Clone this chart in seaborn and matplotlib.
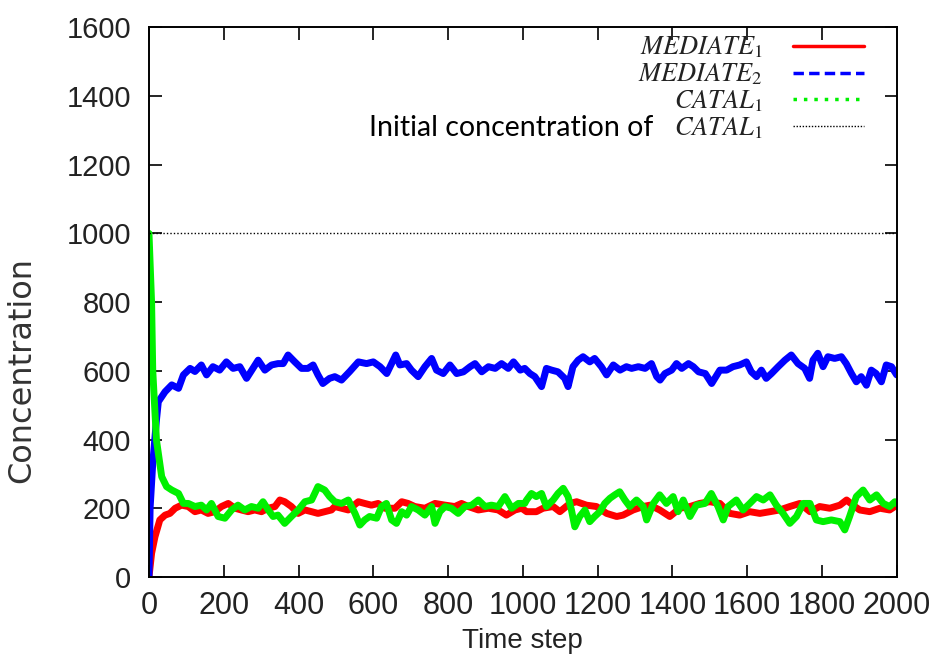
import matplotlib
matplotlib.use("Agg")
import matplotlib.pyplot as plt
import seaborn as sns
import pandas as pd
from matplotlib.lines import Line2D

# ---------------- data ----------------
t_mediate2 = [0, 3, 10, 20, 25, 43, 61, 79, 92, 110, 123, 140, 154, 171, 189, 207, 225, 243, 261, 278,
              292, 310, 328, 345, 359, 372, 390, 408, 425, 439, 452, 465, 483, 497, 515, 537, 560, 582,
              600, 618, 636, 649, 660, 671, 689, 702, 720, 738, 756, 769, 787, 805, 823, 841, 859, 872,
              890, 908, 926, 943, 961, 975, 993, 1005, 1019, 1032, 1050, 1063, 1077, 1094, 1112, 1121,
              1134, 1148, 1161, 1179, 1192, 1210, 1224, 1242, 1260, 1277, 1291, 1309, 1327, 1344, 1358,
              1367, 1380, 1398, 1411, 1425, 1443, 1456, 1470, 1488, 1505, 1527, 1545, 1562, 1580, 1598,
              1611, 1625, 1638, 1651, 1665, 1683, 1701, 1718, 1736, 1754, 1767, 1776, 1789, 1803, 1816,
              1834, 1852, 1865, 1879, 1892, 1905, 1919, 1932, 1945, 1959, 1972, 1986, 2000]
mediate2 = [0, 200, 330, 457, 510, 539, 559, 549, 588, 607, 598, 617, 588, 612, 602, 626, 607, 612, 578, 607,
            631, 602, 617, 621, 621, 646, 626, 607, 607, 617, 588, 563, 578, 583, 573, 598, 626, 621,
            626, 612, 592, 621, 646, 617, 621, 602, 583, 612, 636, 602, 592, 617, 592, 597, 612, 621,
            597, 612, 607, 621, 607, 626, 602, 607, 592, 583, 554, 607, 602, 597, 578, 554,
            612, 631, 641, 626, 636, 612, 588, 617, 602, 612, 607, 612, 607, 621, 583,
            573, 592, 602, 621, 607, 621, 612, 597, 592, 563, 602, 602, 612, 617, 626,
            597, 583, 602, 578, 592, 612, 631, 646, 621, 607, 578, 631, 651, 612, 641,
            636, 641, 621, 592, 568, 583, 558, 602, 592, 568, 617, 612, 588]

t_mediate1 = [0, 7, 16, 29, 43, 56, 70, 87, 105, 123, 140, 158, 176, 194, 212, 230, 247, 265, 283, 301,
              319, 337, 350, 363, 381, 399, 417, 435, 452, 470, 488, 497, 515, 533, 560, 577, 595, 613,
              631, 658, 676, 693, 711, 738, 765, 792, 818, 836, 854, 881, 908, 934, 956, 979, 997, 1010,
              1036, 1054, 1081, 1099, 1126, 1144, 1170, 1197, 1224, 1251, 1268, 1295, 1322, 1340, 1366,
              1393, 1420, 1447, 1473, 1500, 1527, 1554, 1580, 1607, 1634, 1661, 1687, 1714, 1741, 1768,
              1794, 1821, 1848, 1866, 1883, 1901, 1928, 1955, 1981, 1995, 2000]
mediate1 = [0, 69, 117, 166, 180, 185, 200, 209, 205, 190, 195, 185, 190, 205, 214, 200, 195, 190, 195, 190,
            200, 205, 224, 219, 205, 185, 195, 190, 185, 190, 195, 205, 200, 195, 219, 214, 209, 214,
            200, 200, 219, 214, 205, 200, 214, 209, 205, 214, 205, 195, 200, 195, 180, 195, 200, 190,
            190, 200, 205, 190, 214, 219, 209, 205, 185, 176, 180, 195, 205, 209, 195,
            176, 200, 205, 214, 219, 214, 185, 180, 190, 185, 190, 195, 205, 214, 190,
            205, 200, 209, 224, 209, 195, 190, 200, 195, 205, 205]

t_catal1 = [0, 7, 10, 20, 34, 47, 61, 79, 92, 105, 123, 140, 154, 167, 185, 203, 221, 238, 256, 274, 292,
            305, 319, 332, 345, 363, 381, 399, 417, 435, 452, 470, 483, 497, 515, 533, 551, 564, 577, 590,
            609, 622, 635, 649, 662, 676, 689, 702, 720, 738, 756, 765, 778, 792, 809, 827, 845, 863, 881,
            899, 916, 934, 952, 970, 988, 1005, 1010, 1023, 1036, 1050, 1063, 1081, 1094, 1108, 1121, 1130,
            1139, 1152, 1166, 1179, 1192, 1206, 1219, 1233, 1246, 1259, 1273, 1286, 1304, 1322, 1331, 1349,
            1366, 1384, 1402, 1415, 1429, 1447, 1464, 1487, 1504, 1522, 1536, 1549, 1571, 1589, 1607, 1625,
            1643, 1661, 1678, 1696, 1714, 1732, 1750, 1768, 1785, 1803, 1825, 1848, 1861, 1874, 1892, 1910,
            1928, 1946, 1964, 1981, 1995, 2000]
catal1 = [1000, 797, 602, 398, 292, 263, 253, 243, 214, 214, 205, 209, 195, 214, 176, 171, 195, 209, 195, 205, 200,
          219, 195, 176, 180, 156, 176, 195, 219, 224, 263, 253, 234, 219, 214, 224, 185, 151, 166, 176,
          171, 205, 214, 166, 156, 190, 180, 205, 195, 180, 205, 156, 190, 205, 200, 185, 205, 209, 224,
          205, 209, 205, 234, 200, 214, 214, 224, 243, 234, 243, 205, 224, 243, 258, 234, 195,
          146, 176, 195, 161, 176, 190, 214, 229, 239, 248, 224, 205, 224, 205, 166, 214,
          239, 214, 234, 190, 224, 176, 209, 214, 243, 205, 166, 205, 224, 195, 214, 234,
          224, 239, 209, 185, 156, 176, 214, 214, 166, 161, 166, 161, 137, 176, 234, 253,
          224, 239, 214, 205, 219, 214]

initial_catal1 = 1000
x_ticks = [0, 200, 400, 600, 800, 1000, 1200, 1400, 1600, 1800, 2000]
y_ticks = [0, 200, 400, 600, 800, 1000, 1200, 1400, 1600]
labels = ["$MEDIATE_1$", "$MEDIATE_2$", "$CATAL_1$", "$CATAL_1$"]
overlay_label = "Initial concentration of"

# ---------------- style ----------------
sns.set_style("ticks")
plt.rcParams["font.family"] = ["Liberation Sans", "DejaVu Sans"]
plt.rcParams["mathtext.fontset"] = "stix"

fig = plt.figure(figsize=(9.37, 6.6), dpi=100)
ax = fig.add_axes([0.159, 0.1258, 0.798, 0.833])

df1 = pd.DataFrame({"t": t_mediate1, "c": mediate1})
df2 = pd.DataFrame({"t": t_mediate2, "c": mediate2})
df3 = pd.DataFrame({"t": t_catal1, "c": catal1})

red, blue, green = "#ff0000", "#0000ff", "#00f000"
sns.lineplot(data=df1, x="t", y="c", ax=ax, color=red, lw=5, estimator=None, sort=False, legend=False)
sns.lineplot(data=df2, x="t", y="c", ax=ax, color=blue, lw=5, estimator=None, sort=False, legend=False)
sns.lineplot(data=df3, x="t", y="c", ax=ax, color=green, lw=5, estimator=None, sort=False, legend=False)
ax.axhline(initial_catal1, color="black", lw=1.0, ls=(0, (1, 1.5)))

ax.set_xlim(0, 2000)
ax.set_ylim(0, 1600)
ax.set_xticks(x_ticks)
ax.set_yticks(y_ticks)
ax.tick_params(direction="in", length=9, width=1.2, top=True, right=True, colors="black")
for lab in ax.get_xticklabels():
    lab.set_fontsize(22)
    lab.set_color("#222222")
for lab in ax.get_yticklabels():
    lab.set_fontsize(21)
    lab.set_color("#222222")
ax.tick_params(axis="x", pad=10)
ax.tick_params(axis="y", pad=13)
for s in ax.spines.values():
    s.set_linewidth(1.4)
    s.set_color("black")

ax.set_xlabel("Time step", fontsize=20, color="#222222", labelpad=5)
ax.set_ylabel("Concentration", fontsize=23, family=["DejaVu Sans"], color="#333333")
ax.yaxis.set_label_coords(-0.150, 0.376)

handles = [
    Line2D([], [], color=red, lw=2.5, ls="-"),
    Line2D([], [], color=blue, lw=2.5, ls=(0, (3, 1.5))),
    Line2D([], [], color=green, lw=2.5, ls=(0, (1, 2))),
    Line2D([], [], color="black", lw=1.0, ls=(0, (1, 1.2))),
]
leg = ax.legend(handles, labels, loc="upper right", bbox_to_anchor=(0.956, 0.986),
                frameon=False, markerfirst=False, fontsize=19, handlelength=2.7,
                labelspacing=0.05, borderpad=0, borderaxespad=0, handletextpad=1.15)
for txt in leg.get_texts():
    txt.set_color("#222222")

# the prefix text of the last key entry is set in a different (sans) face
fig.canvas.draw()
bb = leg.get_texts()[3].get_window_extent().transformed(fig.transFigure.inverted())
fig.text(bb.x0 - 0.022, (bb.y0 + bb.y1) / 2 + 0.001, overlay_label, family=["Lato", "DejaVu Sans"],
         fontsize=20.5, ha="right", va="center", color="black")

fig.savefig("out.png", dpi=100, facecolor="white")
